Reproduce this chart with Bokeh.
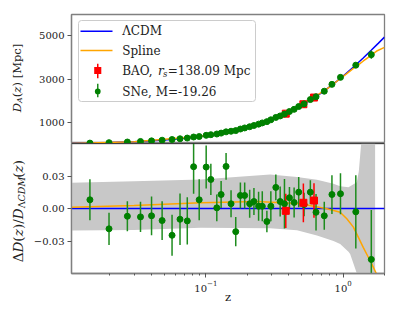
import math
from bokeh.plotting import figure
from bokeh.models import Range1d, FixedTicker, Label, BoxAnnotation, Span, ColumnDataSource
from bokeh.layouts import column, row
from bokeh.embed import file_html
from bokeh.resources import INLINE

# ---------------- data ----------------
sn_z = [0.0143, 0.0197, 0.0268, 0.0334, 0.0402, 0.0480, 0.0567, 0.0648, 0.0732, 0.0814,
        0.0894, 0.1005, 0.1087, 0.1201, 0.1291, 0.1403, 0.1525, 0.1650, 0.1784, 0.1917,
        0.2084, 0.2239, 0.2421, 0.2575, 0.2782, 0.2973, 0.3232, 0.3477, 0.3736, 0.4061,
        0.4393, 0.4744, 0.5191, 0.5767, 0.6343, 0.7284, 0.8283, 0.9559, 1.236, 1.603]
sn_D = [58.5, 78.6, 107.8, 134.2, 161.5, 191.6, 222.8, 258.0, 290.4, 338.8,
        360.4, 416.6, 444.4, 477.0, 518.1, 576.5, 604.1, 634.1, 706.3, 756.4,
        812.0, 869.9, 931.8, 987.4, 1047.0, 1131.0, 1241.1, 1309.0, 1394.7, 1513.0,
        1613.7, 1743.4, 1864.3, 2062.9, 2192.8, 2447.4, 2763.9, 3085.2, 3646.4, 4132.0]
sn_res = [0.0084, -0.0186, -0.0069, -0.0075, -0.0065, -0.0109, -0.0246, -0.0097, -0.0112, 0.0391,
          0.0084, 0.0388, 0.0273, 0.0009, 0.0133, 0.0394, 0.0047, -0.0212, 0.0124, 0.0124,
          0.0047, 0.0068, 0.0024, 0.0024, -0.0118, 0.0024, 0.0199, 0.0068, 0.0047, 0.0103,
          0.0059, 0.0155, 0.0040, 0.0155, -0.0032, -0.0065, 0.0133, 0.0140, -0.0028, -0.047]
sn_err = [0.019, 0.015, 0.014, 0.014, 0.018, 0.018, 0.019, 0.024, 0.022, 0.025,
          0.019, 0.020, 0.0145, 0.0125, 0.0125, 0.0125, 0.0125, 0.0135, 0.012, 0.012,
          0.013, 0.0125, 0.0135, 0.014, 0.010, 0.014, 0.012, 0.014, 0.023, 0.010,
          0.014, 0.014, 0.011, 0.011, 0.017, 0.013, 0.018, 0.019, 0.034, 0.046]

bao_z = [0.382, 0.513, 0.613]
bao_D = [1414.0, 1848.7, 2155.5]
bao_res = [-0.0019, 0.0056, 0.0077]
bao_err = [0.016, 0.018, 0.016]

lcdm_z = [0.0105, 0.02, 0.03, 0.05, 0.07, 0.1, 0.15, 0.2, 0.3, 0.4, 0.5, 0.6, 0.7,
          0.8, 0.9, 1.0, 1.2, 1.4, 1.6, 1.8, 2.0]
lcdm_D = [42.8, 81.2, 121.6, 201.7, 281.0, 399.0, 592.0, 778.0, 1138.0, 1478.0, 1799.0,
          2102.0, 2387.0, 2656.0, 2909.0, 3148.0, 3586.0, 3978.0, 4331.0, 4649.0, 4938.0]

spl_z = [0.0105, 0.03, 0.092, 0.237, 0.488, 0.762, 0.951, 1.063, 1.187, 1.291, 1.403,
         1.525, 1.614, 1.755, 2.0]
spl_D = [43.7, 122.0, 369.7, 917.4, 1768.8, 2553.8, 3021.2, 3255.4, 3497.0, 3664.6,
         3839.9, 4009.7, 4131.3, 4298.2, 4464.0]
spl_res = [0.0015, 0.003, 0.0056, 0.0068, 0.0047, 0.0, -0.0032, -0.0093, -0.017, -0.0265,
           -0.036, -0.045, -0.051, -0.061, -0.096]

band_z = [0.0105, 0.03, 0.092, 0.294, 0.461, 0.644, 0.850, 0.951, 1.093, 1.124, 1.258,
          1.30, 1.345, 1.405, 1.50, 1.709]
band_hi = [0.0242, 0.0257, 0.0273, 0.032, 0.0295, 0.027, 0.0233, 0.021, 0.020, 0.021,
           0.0248, 0.035, 0.057, 0.08, 0.1, 0.1]
band_lo = [-0.0202, -0.0196, -0.0177, -0.018, -0.020, -0.0249, -0.030, -0.0326, -0.040,
           -0.042, -0.060, -0.1, -0.1, -0.1, -0.1, -0.1]

top_ticks = [1000, 3000, 5000]
bot_ticks = [-0.03, 0.0, 0.03]
bot_tick_labels = {-0.03: "\u22120.03", 0.0: "0.00", 0.03: "0.03"}

FONT = "DejaVu Serif"
GREY = "#808080"
TXT = "#222222"

# ---------------- figures ----------------
xr = Range1d(0.0105, 2.0)
p1 = figure(width=364, height=143, x_axis_type="log", x_range=xr, y_range=Range1d(40, 5980),
            x_axis_location=None, output_backend="svg", toolbar_location=None,
            min_border_left=41, min_border_right=10, min_border_top=14, min_border_bottom=0)
p2 = figure(width=364, height=172, x_axis_type="log", x_range=xr, y_range=Range1d(-0.0601, 0.0607),
            output_backend="svg", toolbar_location=None,
            min_border_left=41, min_border_right=10, min_border_top=0, min_border_bottom=42)
fl = figure(width=30, height=315, x_range=(0, 1), y_range=(0, 1),
            x_axis_location=None, y_axis_location=None, output_backend="svg",
            toolbar_location=None, min_border=0)
fl.grid.visible = False
fl.outline_line_color = None

for p in (p1, p2):
    p.grid.visible = False
    p.outline_line_color = GREY
    p.outline_line_width = 1.3
    p.background_fill_color = "white"
    p.border_fill_color = "white"
    for ax in p.axis:
        ax.axis_line_color = GREY
        ax.axis_line_width = 1.3
        ax.major_tick_line_color = "#555555"
        ax.minor_tick_line_color = "#555555"
        ax.major_tick_in = 0
        ax.major_tick_out = 4
        ax.minor_tick_in = 0
        ax.minor_tick_out = 2
        ax.major_label_text_font = FONT
        ax.major_label_text_font_size = "10px"
        ax.major_label_text_color = TXT
        ax.major_label_standoff = 3

p1.yaxis.ticker = FixedTicker(ticks=top_ticks, minor_ticks=[])
p2.yaxis.ticker = FixedTicker(ticks=bot_ticks, minor_ticks=[])
p2.yaxis.major_label_overrides = bot_tick_labels
p2.xaxis.axis_label = "z"
p2.xaxis.axis_label_text_font = FONT
p2.xaxis.axis_label_text_font_style = "normal"
p2.xaxis.axis_label_text_font_size = "11.5px"
p2.xaxis.axis_label_text_color = TXT
p2.xaxis.axis_label_standoff = -5

# ---------------- top panel ----------------
sn_src = ColumnDataSource(dict(z=sn_z, D=sn_D,
                               lo=[d * (1 - e) for d, e in zip(sn_D, sn_err)],
                               hi=[d * (1 + e) for d, e in zip(sn_D, sn_err)],
                               r=sn_res,
                               rlo=[r - e for r, e in zip(sn_res, sn_err)],
                               rhi=[r + e for r, e in zip(sn_res, sn_err)]))
bao_src = ColumnDataSource(dict(z=bao_z, D=bao_D,
                                lo=[d * (1 - e) for d, e in zip(bao_D, bao_err)],
                                hi=[d * (1 + e) for d, e in zip(bao_D, bao_err)],
                                r=bao_res,
                                rlo=[r - e for r, e in zip(bao_res, bao_err)],
                                rhi=[r + e for r, e in zip(bao_res, bao_err)]))

p1.line(lcdm_z, lcdm_D, line_color="#0000ff", line_width=1.5)
p1.line(spl_z, spl_D, line_color="#ffa500", line_width=1.5)
p1.segment(x0="z", x1="z", y0="lo", y1="hi", source=bao_src, line_color="#ff0000", line_width=1.5)
p1.scatter(x="z", y="D", source=bao_src, marker="square", size=7, fill_color="#ff0000", line_color="#ff0000")
p1.segment(x0="z", x1="z", y0="lo", y1="hi", source=sn_src, line_color="#1e8c1e", line_width=1.5)
p1.scatter(x="z", y="D", source=sn_src, marker="circle", size=6, fill_color="#008000", line_color="#008000")

# ---------------- bottom panel ----------------
p2.varea(x=band_z, y1=band_lo, y2=band_hi, fill_color="#c8c8c8", fill_alpha=1.0)
p2.hspan(y=[0.0], line_color="#0000ff", line_width=1.5)
p2.line(spl_z, spl_res, line_color="#ffa500", line_width=1.5)
p2.segment(x0="z", x1="z", y0="rlo", y1="rhi", source=sn_src, line_color="#1e8c1e", line_width=1.5)
p2.segment(x0="z", x1="z", y0="rlo", y1="rhi", source=bao_src, line_color="#ff0000", line_width=1.5)
p2.scatter(x="z", y="r", source=sn_src, marker="circle", size=6, fill_color="#008000", line_color="#008000")
p2.scatter(x="z", y="r", source=bao_src, marker="square", size=7, fill_color="#ff0000", line_color="#ff0000")

# separator line between panels
p1.add_layout(Span(location=40, dimension="width", line_color="black", line_width=1.0, level="overlay"))
p2.add_layout(Span(location=0.0607, dimension="width", line_color="black", line_width=1.0, level="overlay"))

# ---------------- legend (manual) ----------------
def box(p, l, r, b, t, color, radius=0, line=None, alpha=1.0):
    p.add_layout(BoxAnnotation(left=l, right=r, bottom=b, top=t,
                               left_units="screen", right_units="screen",
                               bottom_units="screen", top_units="screen",
                               fill_color=color, fill_alpha=alpha, line_color=line,
                               line_alpha=1.0, border_radius=radius, level="annotation"))

def txt(p, x, y, s, size, style="normal", angle=0.0, baseline="middle"):
    p.add_layout(Label(x=x, y=y, x_units="screen", y_units="screen", text=s,
                       text_font=FONT, text_font_size=f"{size}px", text_font_style=style,
                       text_color=TXT, angle=angle, text_align="left", text_baseline=baseline))

box(p1, 7, 184, 42, 123, "white", radius=3, line="#cccccc", alpha=0.85)
box(p1, 9, 41, 111.55, 113.05, "#0000ff")
box(p1, 9, 41, 92.25, 93.75, "#ffa500")
box(p1, 25.5, 27.0, 65.3, 79.7, "#ff0000")
box(p1, 22.7, 29.8, 69.5, 76.5, "#ff0000")
box(p1, 25.5, 27.0, 46.3, 59.7, "#1e8c1e")
box(p1, 23.4, 29.1, 49.2, 54.9, "#008000", radius=3)

LS = 12
txt(p1, 50.7, 112.3, "\u039bCDM", LS)
txt(p1, 50.7, 93.0, "Spline", LS)
txt(p1, 50.7, 73.0, "BAO,", LS)
txt(p1, 86.4, 73.0, "r", LS, "italic")
txt(p1, 91.6, 70.0, "s", 8.5, "italic")
txt(p1, 96.3, 73.0, "=138.09 Mpc", LS)
txt(p1, 50.7, 52.0, "SNe, M=-19.26", LS)

# ---------------- y-axis labels (rotated pieces, in left strip) ----------------
A = math.pi / 2
# top: D_A(z) [Mpc]
xt = 16
y = 203.3
T = 11.5
txt(fl, xt, y, "D", T, "italic", A); y += 9.2
txt(fl, xt + 3, y, "A", 8, "italic", A); y += 5.8
txt(fl, xt, y, "(", T, "normal", A); y += 4.5
txt(fl, xt, y, "z", T, "italic", A); y += 6.3
txt(fl, xt, y, ") [Mpc]", T, "normal", A)

# bottom: ΔD(z)/D_ΛCDM(z)
xb = 17
y = 53.3
S = 13.5
s = 9.5
txt(fl, xb, y, "\u0394", S, "normal", A); y += 9.75
txt(fl, xb, y, "D", S, "italic", A); y += 10.8
txt(fl, xb, y, "(", S, "normal", A); y += 5.3
txt(fl, xb, y, "z", S, "italic", A); y += 7.4
txt(fl, xb, y, ")/", S, "normal", A); y += 9.8
txt(fl, xb, y, "D", S, "italic", A); y += 10.8
txt(fl, xb + 3.5, y, "\u039b", s, "normal", A); y += 6.9
txt(fl, xb + 3.5, y, "CDM", s, "italic", A); y += 23.6
txt(fl, xb, y, "(", S, "normal", A); y += 5.3
txt(fl, xb, y, "z", S, "italic", A); y += 7.4
txt(fl, xb, y, ")", S, "normal", A)

layout = row(fl, column(p1, p2, spacing=0), spacing=0)
open("out.html", "w").write(file_html(layout, INLINE))
